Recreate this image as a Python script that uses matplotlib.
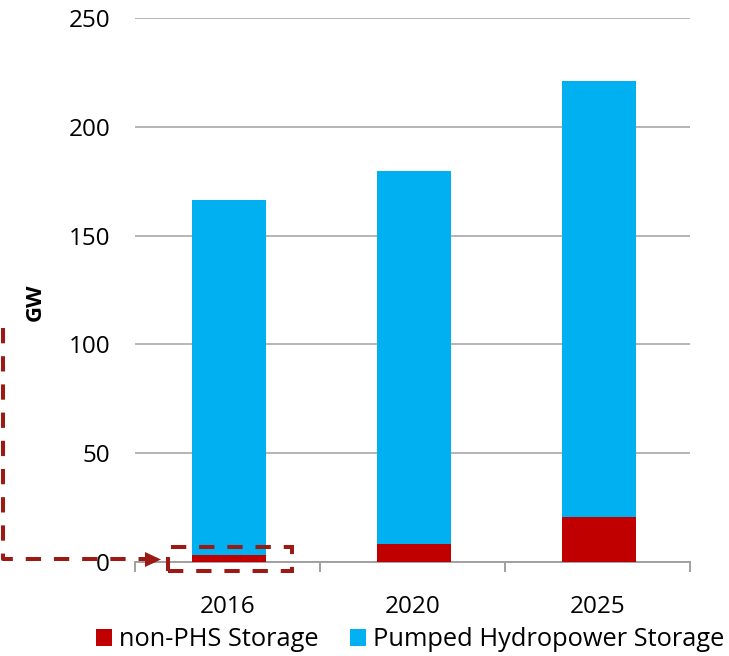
import matplotlib.pyplot as plt
import matplotlib.patches as mpatches
from matplotlib.lines import Line2D
import numpy as np

plt.rcParams['font.family'] = ['Open Sans', 'DejaVu Sans']

years = ['2016', '2020', '2025']
non_phs = [3.2, 8.3, 20.8]
phs = [163.2, 171.4, 200.2]
yticks = [0, 50, 100, 150, 200, 250]

red = '#C00000'
blue = '#00B0F0'
grid_c = '#A0A0A0'
ann_c = '#9B1B14'

W, H = 729, 656
fig = plt.figure(figsize=(W / 100, H / 100), dpi=100)
ax = fig.add_axes([135 / W, 1 - 562 / H, 555 / W, 544 / H])

x = np.arange(len(years))
ax.bar(x + 0.01, non_phs, width=0.4, color=red, label='non-PHS Storage', zorder=3)
ax.bar(x + 0.01, phs, width=0.4, bottom=non_phs, color=blue,
       label='Pumped Hydropower Storage', zorder=3)

ax.set_xlim(-0.5, 2.5)
ax.set_ylim(0, 250)
ax.set_yticks(yticks)
ax.yaxis.grid(True, color=grid_c, lw=1.1)
ax.set_axisbelow(True)
for s in ['top', 'left', 'right']:
    ax.spines[s].set_visible(False)
ax.spines['bottom'].set_color(grid_c)
ax.spines['bottom'].set_linewidth(1.4)

ax.set_xticks(x)
ax.set_xticklabels(years)
ax.set_xticks([-0.5, 0.5, 1.5, 2.5], minor=True)
ax.tick_params(axis='x', which='major', length=0, pad=24, labelsize=17.5)
ax.tick_params(axis='x', which='minor', length=7, width=1.4, color=grid_c, direction='out')
ax.tick_params(axis='y', length=0, pad=18, labelsize=17.5)

def fp(px, py):
    return px / W, 1 - py / H

fig.text(*fp(35, 302), 'GW', rotation=90, ha='center', va='center',
         fontsize=16, fontweight='bold')

# dashed annotation pointing at the 2016 non-PHS bar
xs, ys = zip(fp(3, 328), fp(3, 559), fp(146, 559))
fig.add_artist(Line2D(xs, ys, transform=fig.transFigure, color=ann_c, lw=2.9,
                      linestyle=(0, (3.8, 3.2))))
fig.add_artist(mpatches.Polygon([fp(145, 552), fp(161, 559.5), fp(145, 567)],
                                closed=True, transform=fig.transFigure,
                                color=ann_c, lw=0))
x0, y0 = fp(168, 571)
x1, y1 = fp(292, 547)
fig.add_artist(mpatches.Rectangle((x0, y0), x1 - x0, y1 - y0, transform=fig.transFigure,
                                  fill=False, edgecolor=ann_c, lw=2.9,
                                  linestyle=(0, (3.8, 3.2)), zorder=5))

fig.legend(loc='center', bbox_to_anchor=fp(410, 640), ncol=2, frameon=False,
           fontsize=18.3, handlelength=0.63, handleheight=0.63, handletextpad=0.28,
           columnspacing=1.22, borderpad=0, borderaxespad=0)

fig.savefig('out.png', dpi=100)
